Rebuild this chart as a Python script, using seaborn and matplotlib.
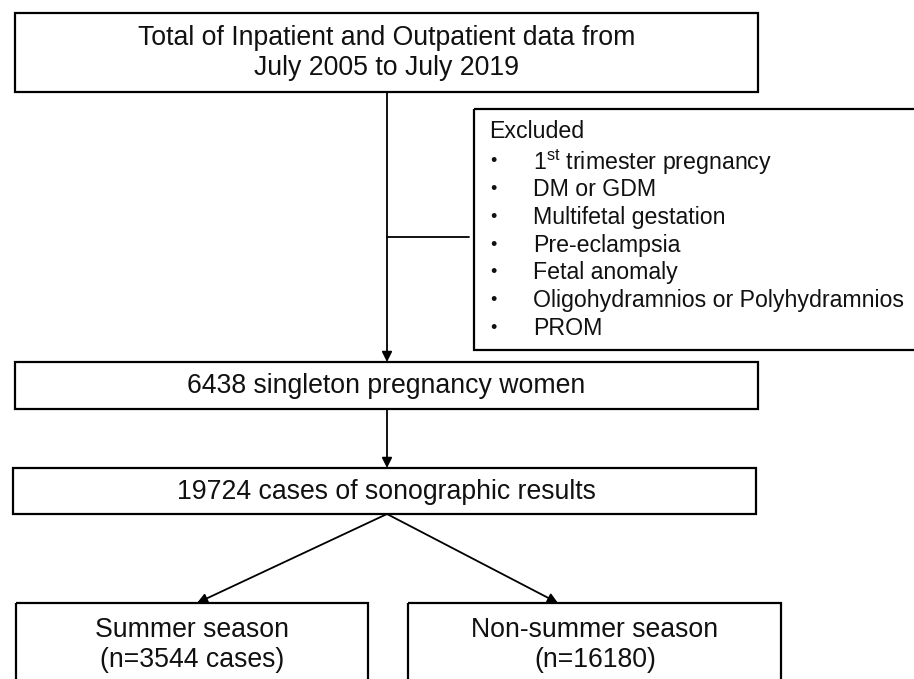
import matplotlib
matplotlib.use("Agg")
import matplotlib.pyplot as plt
from matplotlib.patches import Rectangle
import seaborn as sns

# texts of the flowchart
top_lines = ["Total of Inpatient and Outpatient data from", "July 2005 to July 2019"]
excluded_title = "Excluded"
excluded_items = [
    r"1$^{\mathrm{st}}$ trimester pregnancy",
    "DM or GDM",
    "Multifetal gestation",
    "Pre-eclampsia",
    "Fetal anomaly",
    "Oligohydramnios or Polyhydramnios",
    "PROM",
]
singleton_label = "6438 singleton pregnancy women"
cases_label = "19724 cases of sonographic results"
summer_lines = ["Summer season", "(n=3544 cases)"]
nonsummer_lines = ["Non-summer season", "(n=16180)"]

# box layout in pixel coords (x0, y0, x1, y1)
layout = {
    "top": (15, 13, 758, 92),
    "excl": (474, 109, 940, 350),
    "single": (15, 362, 758, 409),
    "cases": (13, 468, 756, 514),
    "summer": (16, 603, 368, 720),
    "nonsummer": (408, 603, 781, 720),
}

sns.set_theme(style="white")
plt.rcParams["font.family"] = ["Liberation Sans", "DejaVu Sans"]
plt.rcParams["mathtext.fontset"] = "custom"
plt.rcParams["mathtext.rm"] = "Liberation Sans"
plt.rcParams["mathtext.it"] = "Liberation Sans"

fig = plt.figure(figsize=(9.14, 6.79), dpi=100)
ax = fig.add_axes([0, 0, 1, 1])
ax.set_xlim(0, 914)
ax.set_ylim(679, 0)
ax.axis("off")

for name, (x0, y0, x1, y1) in layout.items():
    ax.add_patch(Rectangle((x0, y0), x1 - x0, y1 - y0, fill=False,
                           edgecolor="black", linewidth=1.6))

fs = 19.2
ink = "#111111"
ax.text(387, 38, top_lines[0], ha="center", va="center", fontsize=fs, color=ink)
ax.text(387, 68, top_lines[1], ha="center", va="center", fontsize=fs, color=ink)
ax.text(386, 386, singleton_label, ha="center", va="center", fontsize=fs, color=ink)
ax.text(386, 492, cases_label, ha="center", va="center", fontsize=fs, color=ink)
ax.text(192, 630, summer_lines[0], ha="center", va="center", fontsize=fs, color=ink)
ax.text(192, 660, summer_lines[1], ha="center", va="center", fontsize=fs, color=ink)
ax.text(595, 630, nonsummer_lines[0], ha="center", va="center", fontsize=fs, color=ink)
ax.text(595, 660, nonsummer_lines[1], ha="center", va="center", fontsize=fs, color=ink)

# excluded list
efs = 16.7
ax.text(489, 132, excluded_title, ha="left", va="center", fontsize=efs, color=ink)
item_y0, item_dy = 162, 27.7
for i, item in enumerate(excluded_items):
    y = item_y0 + i * item_dy
    ax.text(493, y, "\u2022", ha="center", va="center", fontsize=13, color=ink)
    ax.text(533, y, item, ha="left", va="center", fontsize=efs, color=ink)

arrow = dict(arrowstyle="-|>", mutation_scale=15, lw=1.3, color="black",
             shrinkA=0, shrinkB=0)
cx = 387
ax.annotate("", xy=(cx, 362), xytext=(cx, 92), arrowprops=arrow)
ax.plot([cx, 469], [237, 237], color="black", lw=1.3)
ax.annotate("", xy=(cx, 468), xytext=(cx, 409), arrowprops=arrow)
ax.annotate("", xy=(197, 603), xytext=(cx, 514), arrowprops=arrow)
ax.annotate("", xy=(558, 603), xytext=(cx, 514), arrowprops=arrow)

fig.savefig("out.png", dpi=100, facecolor="white")
